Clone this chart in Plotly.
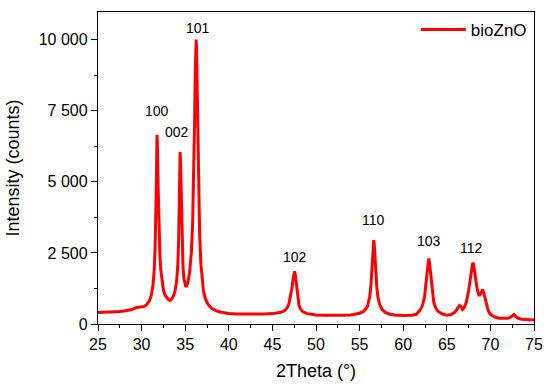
import plotly.graph_objects as go

two_theta = [25.0, 25.5, 26.0, 26.5, 27.0, 27.5, 28.0, 28.5, 28.9, 29.3, 29.6, 30.0, 30.3, 30.6, 30.9, 31.1, 31.3, 31.45,
             31.55, 31.65, 31.72, 31.77, 31.82, 31.9, 32.0, 32.1, 32.2, 32.35, 32.5, 32.7, 32.9, 33.1, 33.25, 33.4,
             33.6, 33.8, 34.0, 34.15, 34.25, 34.33, 34.38, 34.42, 34.47, 34.55, 34.65, 34.75, 34.85, 34.95, 35.05,
             35.15, 35.3, 35.5, 35.7, 35.85, 35.97, 36.07, 36.15, 36.22, 36.26, 36.3, 36.38, 36.46, 36.55, 36.65,
             36.8, 36.95, 37.1, 37.3, 37.6, 38.0, 38.5, 39.0, 39.5, 40.0, 41.0, 42.0, 43.0, 44.0, 45.0, 45.5, 46.0,
             46.4, 46.7, 46.9, 47.1, 47.25, 47.38, 47.47, 47.55, 47.62, 47.7, 47.8, 47.92, 48.05, 48.25, 48.5, 49.0,
             50.0, 51.0, 52.0, 53.0, 54.0, 54.5, 55.0, 55.5, 55.9, 56.15, 56.3, 56.42, 56.5, 56.57, 56.62, 56.68,
             56.75, 56.85, 56.97, 57.1, 57.3, 57.6, 58.0, 58.5, 59.0, 60.0, 61.0, 61.5, 61.9, 62.2, 62.45, 62.62,
             62.75, 62.85, 62.92, 62.98, 63.06, 63.16, 63.3, 63.5, 63.75, 64.0, 64.5, 65.0, 65.5, 65.9, 66.2, 66.45,
             66.6, 66.8, 67.0, 67.25, 67.5, 67.7, 67.85, 67.97, 68.05, 68.15, 68.3, 68.5, 68.7, 68.9, 69.05, 69.15,
             69.3, 69.5, 69.75, 70.0, 70.5, 71.0, 71.5, 72.0, 72.3, 72.55, 72.7, 72.9, 73.2, 73.6, 74.0, 74.5, 75.0]

intensity = [400, 405, 410, 420, 430, 440, 460, 480, 510, 570, 585, 590, 620, 690, 820, 1000, 1350, 1900,
             2700, 4200, 5700, 6650, 6200, 4800, 3300, 2400, 1900, 1450, 1200, 1000, 900, 850, 835, 860,
             950, 1120, 1450, 2050, 3000, 4500, 5600, 6050, 5600, 4300, 2900, 2000, 1600, 1420, 1340,
             1340, 1450, 1800, 2500, 3500, 5000, 7000, 8800, 9800, 10000, 9700, 8300, 6300, 4500, 3200,
             2100, 1500, 1150, 900, 700, 560, 470, 420, 390, 370, 355, 350, 350, 355, 365, 375, 410,
             470, 570, 720, 980, 1280, 1600, 1800, 1850, 1740, 1500, 1180, 880, 660, 510, 430, 365,
             320, 305, 300, 305, 320, 340, 380, 450, 620, 950, 1350, 1950, 2500, 2850, 2950, 2800,
             2400, 1850, 1300, 950, 680, 500, 400, 345, 315, 295, 305, 340, 470, 640, 950, 1450,
             1950, 2250, 2300, 2250, 2000, 1650, 1150, 780, 550, 440, 350, 310, 335, 410, 530, 650,
             620, 510, 580, 780, 1180, 1620, 1960, 2150, 2120, 1920, 1550, 1200, 990, 1070, 1180, 1180,
             1020, 730, 470, 340, 245, 205, 195, 200, 240, 320, 330, 260, 200, 170, 155, 145, 140]

peak_labels = ["100", "002", "101", "102", "110", "103", "112"]
label_x = [31.77, 34.02, 36.42, 47.63, 56.64, 62.94, 67.8]
label_y = [7490, 6760, 10400, 2345, 3640, 2933, 2662]

FONT = "Liberation Sans, Arial, sans-serif"

fig = go.Figure()
fig.add_trace(go.Scatter(x=two_theta, y=intensity, mode="lines", name="bioZnO",
                         line=dict(color="#ff0000", width=3)))

for t, xx, yy in zip(peak_labels, label_x, label_y):
    fig.add_annotation(x=xx, y=yy, text=t, showarrow=False,
                       font=dict(family=FONT, size=14, color="black"),
                       xanchor="center", yanchor="middle")

axis_common = dict(showline=True, linecolor="black", linewidth=1.3, mirror=True,
                   ticks="outside", ticklen=6, tickwidth=1.2, tickcolor="black",
                   showgrid=False, zeroline=False, automargin=False,
                   tickfont=dict(family=FONT, size=16, color="black"))

fig.update_xaxes(range=[25, 75], dtick=5, tick0=25,
                 minor=dict(ticks="outside", ticklen=3, dtick=2.5, tickcolor="black", tickwidth=1),
                 title=dict(text="2Theta (°)", font=dict(family=FONT, size=18, color="black"), standoff=12),
                 **axis_common)
fig.update_yaxes(range=[0, 10970], dtick=2500, tick0=0, tickformat=",d",
                 minor=dict(ticks="outside", ticklen=3, dtick=1250, tickcolor="black", tickwidth=1),
                 title=dict(text="Intensity (counts)", font=dict(family=FONT, size=18, color="black"), standoff=14),
                 **axis_common)

fig.update_layout(
    width=550, height=389,
    margin=dict(l=97.5, r=15.5, t=11.7, b=65, autoexpand=False),
    paper_bgcolor="white", plot_bgcolor="white",
    separators=". ",
    showlegend=True,
    legend=dict(x=0.995, y=1.0, xanchor="right", yanchor="top", bgcolor="rgba(0,0,0,0)",
                itemwidth=45,
                font=dict(family=FONT, size=17, color="black"), borderwidth=0),
)

fig.write_html("out.html", config={"displayModeBar": False},
               post_script="document.body.style.margin='0';")
